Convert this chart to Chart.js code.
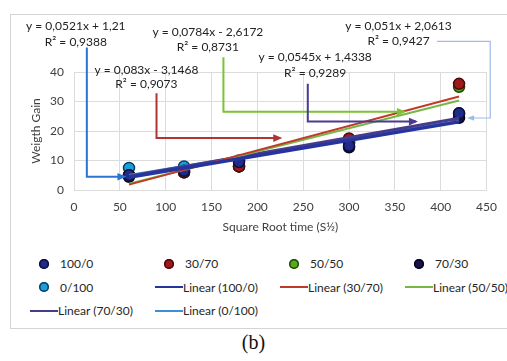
<!DOCTYPE html>
<html>
<head>
<meta charset="utf-8">
<script src="https://cdn.jsdelivr.net/npm/chart.js@4/dist/chart.umd.min.js"></script>
<style>
  html, body { margin: 0; padding: 0; background: #fff; }
  body { width: 507px; height: 361px; position: relative; overflow: hidden; font-family: Lato, "Open Sans", sans-serif; }
  #frame { position: absolute; left: 10px; top: 14px; width: 510px; height: 313px; border: 1px solid #d4d4d4; }
  #wrap { position: absolute; left: 0; top: 0; width: 507px; height: 245px; }
  #legend { position: absolute; left: 30px; top: 252px; width: 500px; }
  .row { height: 23.5px; display: flex; }
  .item { width: 125px; display: flex; align-items: center; font-size: 12px; color: #262626; white-space: nowrap; }
  .icon { width: 28px; height: 12px; position: relative; flex: none; }
  .dot { position: absolute; left: 9px; top: 1px; width: 10px; height: 10px; border-radius: 50%; }
  .line { position: absolute; left: 0; top: 5px; width: 28px; height: 2px; }
  .item.d span { margin-left: 2px; }
  #caption { position: absolute; left: 0; width: 507px; top: 331px; text-align: center; font-family: "Liberation Serif", serif; font-size: 20px; color: #111; }
</style>
</head>
<body>
<div id="frame"></div>
<div id="wrap"><canvas id="weightChart"></canvas></div>
<div id="legend"></div>
<div id="caption">(b)</div>
<script>
(function () {
    "use strict";

    // measurements: square root time vs weight gain
    var xValues = [60, 120, 180, 300, 420];
    var gain100_0 = [5, 6.5, 9.5, 15, 26];
    var gain30_70 = [5, 6, 8, 17.5, 36];
    var gain50_50 = [5, 6, 8, 16, 35];
    var gain70_30 = [4.5, 6, 8, 14.5, 24.5];
    var gain0_100 = [7.5, 8, 10, 16, 26];

    var seriesNames = ["100/0", "30/70", "50/50", "70/30", "0/100"];

    // trendline equations as printed on the chart
    var slopes = [0.0521, 0.083, 0.0784, 0.0545, 0.051];
    var intercepts = [1.21, -3.1468, -2.6172, 1.4338, 2.0613];
    var equations = ["y = 0,0521x + 1,21", "y = 0,083x - 3,1468", "y = 0,0784x - 2,6172", "y = 0,0545x + 1,4338", "y = 0,051x + 2,0613"];
    var rSquared = ["R\u00b2 = 0,9388", "R\u00b2 = 0,9073", "R\u00b2 = 0,8731", "R\u00b2 = 0,9289", "R\u00b2 = 0,9427"];

    var xTicks = [0, 50, 100, 150, 200, 250, 300, 350, 400, 450];
    var yTicks = [0, 10, 20, 30, 40];

    var pointColors = ["#1f2a8a", "#9e1a1a", "#5aa81e", "#17124a", "#1b9fd8"];
    var pointEdges = ["#0b1040", "#4a0808", "#1f4a08", "#05031a", "#0a3d66"];
    var trendColors = ["#25349e", "#c0392b", "#76b845", "#4a3a8a", "#3b8fd6"];
    var trendWidths = [3.5, 2, 2, 3, 2];
    var arrowColors = ["#2b74d2", "#b03434", "#7cc232", "#4b3a8e", "#9cbcea"];

    // label anchor (x, line1 y, line2 y) and connector path, in data units
    var labelSpots = [[2, 55.5, 50.2], [79, 40.7, 35.9], [146, 53.6, 48.5], [263, 45, 39.7], [354, 55.6, 50.5]];
    var connectors = [
        [[14, 48.3], [14, 4.5], [55, 4.5]],
        [[90, 32.8], [90, 17.6], [225, 17.6]],
        [[163, 45], [163, 26.5], [360, 26.5]],
        [[255, 36], [255, 23.2], [373, 23.2]],
        [[396, 50.4], [454, 50.4], [454, 24.4], [431, 24.4]]
    ];

    var gains = [gain100_0, gain30_70, gain50_50, gain70_30, gain0_100];

    var datasets = [];
    gains.forEach(function (g, i) {
        datasets.push({
            label: seriesNames[i],
            type: "scatter",
            data: xValues.map(function (x, k) { return { x: x, y: g[k] }; }),
            backgroundColor: pointColors[i],
            borderColor: pointEdges[i],
            borderWidth: 1.5,
            pointRadius: 5.5,
            order: 2
        });
    });
    gains.forEach(function (g, i) {
        var x0 = xValues[0], x1 = xValues[xValues.length - 1];
        datasets.push({
            label: "Linear (" + seriesNames[i] + ")",
            type: "line",
            data: [{ x: x0, y: slopes[i] * x0 + intercepts[i] }, { x: x1, y: slopes[i] * x1 + intercepts[i] }],
            borderColor: trendColors[i],
            borderWidth: trendWidths[i],
            pointRadius: 0,
            fill: false,
            order: 1
        });
    });

    var annotations = {
        id: "annotations",
        afterDatasetsDraw: function (chart) {
            var c = chart.ctx, xs = chart.scales.x, ys = chart.scales.y;
            c.save();
            connectors.forEach(function (path, i) {
                c.strokeStyle = arrowColors[i];
                c.fillStyle = arrowColors[i];
                c.lineWidth = i === 4 ? 1.2 : 2;
                c.beginPath();
                path.forEach(function (p, k) {
                    var px = xs.getPixelForValue(p[0]), py = ys.getPixelForValue(p[1]);
                    if (k === 0) c.moveTo(px, py); else c.lineTo(px, py);
                });
                c.stroke();
                var a = path[path.length - 2], b = path[path.length - 1];
                var bx = xs.getPixelForValue(b[0]), by = ys.getPixelForValue(b[1]);
                var dir = Math.sign(b[0] - a[0]);
                var s = i === 4 ? 5 : 7;
                c.beginPath();
                c.moveTo(bx + dir * 2, by);
                c.lineTo(bx - dir * s, by - s * 0.55);
                c.lineTo(bx - dir * s, by + s * 0.55);
                c.closePath();
                c.fill();
            });
            c.fillStyle = "#222";
            c.font = "12px Lato, 'Open Sans', sans-serif";
            c.textAlign = "center";
            c.textBaseline = "middle";
            labelSpots.forEach(function (s, i) {
                var px = xs.getPixelForValue(s[0]);
                c.fillText(equations[i], px, ys.getPixelForValue(s[1]));
                c.fillText(rSquared[i], px, ys.getPixelForValue(s[2]));
            });
            c.restore();
        }
    };

    var htmlLegend = {
        id: "htmlLegend",
        afterUpdate: function (chart) {
            var box = document.getElementById("legend");
            box.innerHTML = "";
            var items = chart.data.datasets;
            var row;
            items.forEach(function (ds, i) {
                if (i % 4 === 0) { row = document.createElement("div"); row.className = "row"; box.appendChild(row); }
                var it = document.createElement("div");
                var icon = document.createElement("div");
                icon.className = "icon";
                var mark = document.createElement("div");
                if (ds.type === "scatter") {
                    it.className = "item d";
                    mark.className = "dot";
                    mark.style.background = ds.backgroundColor;
                    mark.style.boxShadow = "inset 0 0 0 1.5px " + ds.borderColor;
                } else {
                    it.className = "item";
                    mark.className = "line";
                    mark.style.background = ds.borderColor;
                }
                icon.appendChild(mark);
                it.appendChild(icon);
                var t = document.createElement("span");
                t.textContent = ds.label;
                it.appendChild(t);
                row.appendChild(it);
            });
        }
    };

    var ctx = document.getElementById("weightChart");
    var myChart = new Chart(ctx, {
        type: "scatter",
        data: { datasets: datasets },
        options: {
            responsive: true,
            maintainAspectRatio: false,
            animation: false,
            layout: { padding: { left: 25, right: 17, top: 72, bottom: 7 } },
            plugins: {
                legend: { display: false },
                tooltip: { enabled: false }
            },
            scales: {
                x: {
                    type: "linear",
                    min: 0, max: 450,
                    afterBuildTicks: function (s) { s.ticks = xTicks.map(function (v) { return { value: v }; }); },
                    afterFit: function (s) { s.height = 48; },
                    grid: { color: "#dcdcdc", drawTicks: false },
                    border: { color: "#dcdcdc" },
                    ticks: { padding: 10, color: "#404040", font: { family: "Lato", size: 12 } },
                    title: { display: true, text: "Square Root time (S\u00bd)", color: "#404040", font: { family: "Lato", size: 12 }, padding: { top: 2, bottom: 4 } }
                },
                y: {
                    min: 0, max: 40,
                    afterBuildTicks: function (s) { s.ticks = yTicks.map(function (v) { return { value: v }; }); },
                    afterFit: function (s) { s.width = 49; },
                    grid: { color: "#dcdcdc", drawTicks: false },
                    border: { display: false },
                    ticks: { padding: 10, color: "#404040", font: { family: "Lato", size: 12 } },
                    title: { display: true, text: "Weigth Gain", color: "#404040", font: { family: "Lato", size: 12 } }
                }
            }
        },
        plugins: [annotations, htmlLegend]
    });
})();
</script>
</body>
</html>
